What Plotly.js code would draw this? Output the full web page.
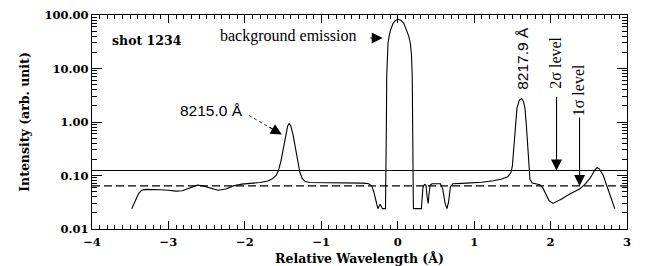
<!DOCTYPE html>
<html>
<head>
<meta charset="utf-8">
<script src="https://cdn.plot.ly/plotly-3.0.1.min.js"></script>
<style>html,body{margin:0;padding:0;background:#fff;}#chart{width:645px;height:266px;}</style>
</head>
<body>
<div id="chart"></div>
<script>
// ---- data ----
const wavelength = [
  -3.48,-3.45,-3.42,-3.39,-3.35,-3.30,-3.20,-3.10,-3.00,-2.90,-2.82,-2.72,-2.62,-2.55,-2.45,-2.35,-2.25,-2.15,-2.04,-1.90,
  -1.80,-1.70,-1.64,-1.59,-1.56,-1.53,-1.50,-1.47,-1.44,-1.42,-1.40,-1.37,-1.34,-1.31,-1.28,-1.25,-1.21,-1.15,-1.00,-0.80,
  -0.60,-0.45,-0.38,-0.34,-0.31,-0.28,-0.26,-0.23,-0.20,-0.16,-0.152,-0.148,-0.144,-0.135,-0.127,-0.11,-0.095,-0.06,-0.03,0.01,
  0.04,0.08,0.12,0.145,0.165,0.18,0.19,0.196,0.20,0.205,0.31,0.33,0.35,0.37,0.385,0.398,0.41,0.425,0.45,0.56,
  0.59,0.62,0.645,0.665,0.69,0.72,0.90,1.10,1.25,1.35,1.44,1.48,1.50,1.52,1.54,1.56,1.59,1.62,1.645,1.665,
  1.685,1.70,1.715,1.73,1.76,1.86,1.90,1.94,1.98,2.03,2.09,2.14,2.25,2.32,2.38,2.45,2.52,2.58,2.61,2.64,
  2.69,2.73,2.77,2.81,2.84
];
const intensity = [
  0.024,0.029,0.037,0.046,0.053,0.055,0.055,0.054,0.053,0.051,0.052,0.059,0.066,0.064,0.058,0.053,0.056,0.064,0.069,0.072,
  0.074,0.079,0.087,0.100,0.125,0.18,0.32,0.56,0.84,0.93,0.86,0.58,0.33,0.18,0.115,0.088,0.077,0.074,0.074,0.074,
  0.073,0.072,0.070,0.064,0.048,0.030,0.024,0.029,0.024,0.024,0.10,1.0,6.9,18,30,42,52,70,79,83,
  80,70,52,40,30,18,7,1.0,0.12,0.024,0.024,0.060,0.068,0.066,0.040,0.030,0.045,0.066,0.070,0.070,
  0.055,0.030,0.024,0.032,0.062,0.070,0.072,0.075,0.080,0.085,0.095,0.112,0.15,0.35,0.9,1.8,2.55,2.75,2.45,1.8,
  0.8,0.35,0.15,0.085,0.072,0.067,0.058,0.043,0.034,0.030,0.033,0.036,0.045,0.050,0.056,0.068,0.090,0.128,0.141,0.132,
  0.100,0.068,0.046,0.032,0.024
];
const levelRange = [-4, 3];
const sigma2Level = 0.124;
const sigma1Level = 0.0638;
const xTickVals = [-4, -3, -2, -1, 0, 1, 2, 3];
const yTickVals = [0.01, 0.1, 1, 10, 100];
const yTickText = ['0.01', '0.10', '1.00', '10.00', '100.00'];
const pointerX = [-1.948, -1.53];
const pointerY = [1.33, 0.60];

// ---- styling ----
const L = Math.log10;
const serifBold = {family: 'DejaVu Serif', size: 11.5, color: '#000', weight: 'bold'};
const titleFont = {family: 'DejaVu Serif', size: 12.5, color: '#000', weight: 'bold'};
const times = {family: 'Liberation Serif', size: 16, color: '#000'};
const arial = {family: 'Liberation Sans', size: 15.5, color: '#000'};

const traces = [
  {x: levelRange, y: [sigma2Level, sigma2Level], mode: 'lines', line: {color: '#000', width: 1.2}},
  {x: levelRange, y: [sigma1Level, sigma1Level], mode: 'lines', line: {color: '#000', width: 1.2, dash: '8px,4px'}},
  {x: pointerX, y: pointerY, mode: 'lines', line: {color: '#333', width: 1, dash: 'dot'}},
  {x: wavelength, y: intensity, mode: 'lines', line: {color: '#000', width: 1.1}}
];

const layout = {
  width: 645, height: 266,
  margin: {l: 92, r: 18, t: 15, b: 37},
  paper_bgcolor: '#fff', plot_bgcolor: '#fff',
  showlegend: false, hovermode: false,
  xaxis: {
    range: [-4, 3], tickmode: 'array', tickvals: xTickVals,
    ticks: 'inside', ticklen: 8, tickwidth: 1, tickcolor: '#000',
    showline: true, linecolor: '#000', linewidth: 1.2, mirror: 'ticks',
    showgrid: false, zeroline: false, ticklabelstandoff: 2,
    minor: {dtick: 0.1, ticks: 'inside', ticklen: 4, tickcolor: '#000', showgrid: false},
    tickfont: serifBold,
    title: {text: 'Relative Wavelength (Å)', font: titleFont, standoff: 6}
  },
  yaxis: {
    type: 'log', range: [-2, 2], tickmode: 'array', tickvals: yTickVals, ticktext: yTickText,
    ticks: 'inside', ticklen: 10, tickwidth: 1, tickcolor: '#000',
    showline: true, linecolor: '#000', linewidth: 1.2, mirror: 'ticks',
    showgrid: false, zeroline: false,
    minor: {dtick: 'D1', ticks: 'inside', ticklen: 5, tickcolor: '#000', showgrid: false},
    tickfont: serifBold,
    title: {text: 'Intensity (arb. unit)', font: titleFont, standoff: 12}
  },
  annotations: [
    {x: -3.281, y: L(34), text: 'shot 1234', showarrow: false, font: {family: 'DejaVu Serif', size: 12.5, color: '#000', weight: 'bold'}},
    {x: -1.432, y: L(40.4), text: 'background emission', showarrow: false, font: times},
    {x: -0.196, y: L(37.1), text: '', showarrow: true, arrowhead: 2, arrowsize: 2, arrowwidth: 1.1, arrowcolor: '#000', ax: -14, ay: 0},
    {x: -2.438, y: L(1.65), text: '8215.0 Å', showarrow: false, font: arial},
    {x: -1.516, y: L(0.585), text: '', showarrow: true, arrowhead: 2, arrowsize: 2, arrowwidth: 1.1, arrowcolor: '#000', ax: -14, ay: -8},
    {x: 1.634, y: L(15.6), text: '8217.9 Å', textangle: -90, showarrow: false, font: arial},
    {x: 2.065, y: L(12.6), text: '2σ level', textangle: -90, showarrow: false, font: times},
    {x: 2.078, y: L(sigma2Level), text: '', showarrow: true, arrowhead: 2, arrowsize: 2, arrowwidth: 1.1, arrowcolor: '#000', ax: 0, ay: -75},
    {x: 2.359, y: L(3.92), text: '1σ level', textangle: -90, showarrow: false, font: times},
    {x: 2.379, y: L(sigma1Level), text: '', showarrow: true, arrowhead: 2, arrowsize: 2, arrowwidth: 1.1, arrowcolor: '#000', ax: 0, ay: -70}
  ]
};

Plotly.newPlot('chart', traces, layout, {staticPlot: true, displayModeBar: false});
</script>
</body>
</html>
